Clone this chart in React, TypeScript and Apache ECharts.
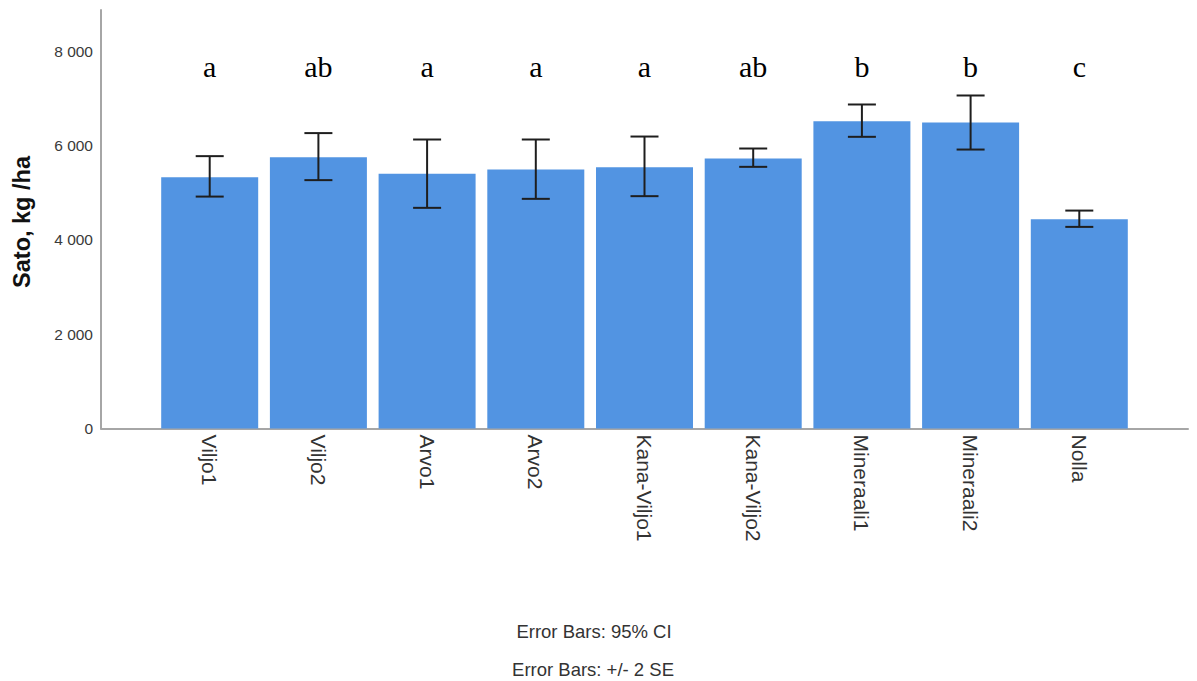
import React, { useEffect, useRef } from "react";
import * as echarts from "echarts";

const categories = ["Viljo1", "Viljo2", "Arvo1", "Arvo2", "Kana-Viljo1", "Kana-Viljo2", "Mineraali1", "Mineraali2", "Nolla"];
const means = [5333, 5757, 5403, 5495, 5545, 5729, 6522, 6493, 4441];
const errLow = [4921, 5270, 4682, 4873, 4930, 5552, 6189, 5919, 4278];
const errHigh = [5779, 6268, 6132, 6132, 6195, 5941, 6875, 7066, 4624];
const letters = ["a", "ab", "a", "a", "a", "ab", "b", "b", "c"];
const yTicks = [0, 2000, 4000, 6000, 8000];
const LETTER_VALUE = 7690;
const footer = ["Error Bars: 95% CI", "Error Bars: +/- 2 SE"];

const fmt = (v: number) => String(v).replace(/\B(?=(\d{3})+(?!\d))/g, " ");

export default function App() {
  const ref = useRef<HTMLDivElement>(null);
  useEffect(() => {
    if (!ref.current) return;
    const chart = echarts.init(ref.current, undefined, { renderer: "svg" });
    const cats = ["", ...categories, ""];
    const barData = [null, ...means, null];
    const errData = categories.map((_, i) => [i + 1, errLow[i], errHigh[i]]);
    const letterData = categories.map((_, i) => [i + 1, LETTER_VALUE, letters[i]]);
    chart.setOption({
      animation: false,
      grid: { left: 101, top: 10, width: 1087, height: 418.5, containLabel: false },
      xAxis: {
        type: "category",
        data: cats,
        boundaryGap: false,
        axisLine: { lineStyle: { color: "#a6a6a6", width: 2 } },
        axisTick: { show: false },
        axisLabel: {
          interval: 0,
          rotate: -90,
          margin: 6,
          fontFamily: "Liberation Sans, Arial, sans-serif",
          fontSize: 21,
          color: "#333",
        },
        splitLine: { show: false },
      },
      yAxis: {
        type: "value",
        min: 0,
        max: 8880,
        interval: 2000,
        axisLine: { show: true, lineStyle: { color: "#a6a6a6", width: 2 } },
        axisTick: { show: false },
        splitLine: { show: false },
        axisLabel: {
          margin: 8,
          fontFamily: "Liberation Sans, Arial, sans-serif",
          fontSize: 15.5,
          color: "#3a3a3a",
          formatter: (v: number) => (yTicks.includes(v) ? fmt(v) : ""),
        },
      },
      series: [
        {
          type: "bar",
          data: barData,
          barWidth: 97,
          itemStyle: { color: "#5294e2" },
        },
        {
          type: "custom",
          data: errData,
          z: 5,
          renderItem: (params: any, api: any) => {
            const x = api.value(0);
            const lo = api.coord([x, api.value(1)]);
            const hi = api.coord([x, api.value(2)]);
            const cw = 14;
            const style = { stroke: "#1e1e1e", lineWidth: 2 };
            return {
              type: "group",
              children: [
                { type: "line", shape: { x1: hi[0], y1: hi[1], x2: lo[0], y2: lo[1] }, style },
                { type: "line", shape: { x1: hi[0] - cw, y1: hi[1], x2: hi[0] + cw, y2: hi[1] }, style },
                { type: "line", shape: { x1: lo[0] - cw, y1: lo[1], x2: lo[0] + cw, y2: lo[1] }, style },
              ],
            };
          },
        },
        {
          type: "custom",
          data: letterData,
          z: 5,
          renderItem: (params: any, api: any) => {
            const idx = params.dataIndex;
            const p = api.coord([api.value(0), api.value(1)]);
            return {
              type: "text",
              x: p[0],
              y: p[1],
              style: {
                text: letters[idx],
                fontFamily: "Liberation Serif, Times New Roman, serif",
                fontSize: 30,
                fill: "#000",
                align: "center",
                verticalAlign: "middle",
              },
            };
          },
        },
      ],
      graphic: [
        {
          type: "text",
          x: 22,
          y: 222,
          rotation: Math.PI / 2,
          style: {
            text: "Sato, kg /ha",
            fontFamily: "Liberation Sans, Arial, sans-serif",
            fontWeight: "bold",
            fontSize: 23.5,
            fill: "#111",
            align: "center",
            verticalAlign: "middle",
          },
        },
        {
          type: "text",
          x: 594,
          y: 631.5,
          style: {
            text: footer[0],
            fontFamily: "Liberation Sans, Arial, sans-serif",
            fontSize: 18.5,
            fill: "#333",
            align: "center",
            verticalAlign: "middle",
          },
        },
        {
          type: "text",
          x: 593,
          y: 669.5,
          style: {
            text: footer[1],
            fontFamily: "Liberation Sans, Arial, sans-serif",
            fontSize: 18.5,
            fill: "#333",
            align: "center",
            verticalAlign: "middle",
          },
        },
      ],
    });
    return () => chart.dispose();
  }, []);
  return (
    <div style={{ position: "fixed", left: 0, top: 0, width: 1197, height: 681, background: "#fff" }}>
      <div ref={ref} style={{ width: 1197, height: 681 }} />
    </div>
  );
}
